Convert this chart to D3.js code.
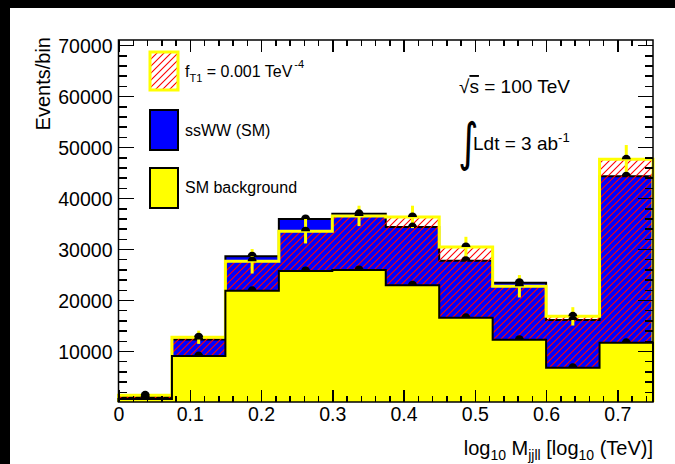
<!DOCTYPE html>
<html>
<head>
<meta charset="utf-8">
<style>
html, body{ margin:0; padding:0; background:#fff; overflow:hidden; }
svg{ display:block; font-family:"Liberation Sans", Arial, sans-serif; }
.axis path{ display:none; }
.axis line{ stroke:#000; stroke-width:1.5px; shape-rendering:crispEdges; }
.axis text{ font-size:19.5px; fill:#000; font-family:"Liberation Sans", Arial, sans-serif; }
</style>
</head>
<body>
<script src="https://cdn.jsdelivr.net/npm/d3@7/dist/d3.min.js"></script>
<script>
  var WIDTH = 675;
  var HEIGHT = 464;

  // bin edges of log10 M_jjll
  var binEdges = [0, 0.075, 0.15, 0.225, 0.3, 0.375, 0.45, 0.525, 0.6, 0.675, 0.75];
  var binCenters = [0.0375, 0.1125, 0.1875, 0.2625, 0.3375, 0.4125, 0.4875, 0.5625, 0.6375, 0.7125];

  var smBackground = [600, 9000, 21800, 25700, 25900, 22900, 16500, 12200, 6700, 11600];
  var ssWW = [400, 3250, 6800, 10200, 11000, 11400, 11200, 11200, 9400, 32700];
  var fT1Total = [1300, 12700, 27600, 33500, 36500, 36300, 30400, 22700, 16800, 47600];
  var fT1Err = [400, 1300, 2400, 2400, 2000, 2200, 2000, 2200, 1800, 2800];

  var xTicks = [0, 0.1, 0.2, 0.3, 0.4, 0.5, 0.6, 0.7];
  var xTickLabels = ["0", "0.1", "0.2", "0.3", "0.4", "0.5", "0.6", "0.7"];
  var yTicks = [10000, 20000, 30000, 40000, 50000, 60000, 70000];
  var yTickLabels = ["10000", "20000", "30000", "40000", "50000", "60000", "70000"];

  var smTotal = smBackground.map((d, i) => d + ssWW[i]);

  var xScale = d3.scaleLinear().domain([0, 0.75]).range([118.5, 653]);
  var yScale = d3.scaleLinear().domain([0, 71000]).range([402, 40]);

  var svg = d3.select("body").append("svg")
    .attr("width", WIDTH)
    .attr("height", HEIGHT);

  // canvas + window edge
  svg.append("rect").attr("width", WIDTH).attr("height", HEIGHT).attr("fill", "#fff");
  svg.append("rect").attr("x", 0).attr("y", 0).attr("width", WIDTH).attr("height", 8).attr("fill", "#000");
  svg.append("rect").attr("x", 0).attr("y", 0).attr("width", 10).attr("height", HEIGHT).attr("fill", "#000");

  var defs = svg.append("defs");
  var pat = defs.append("pattern")
    .attr("id", "hatch")
    .attr("patternUnits", "userSpaceOnUse")
    .attr("width", 7).attr("height", 7);
  pat.append("path")
    .attr("d", "M-1,1 L1,-1 M0,7 L7,0 M6,8 L8,6")
    .attr("stroke", "#ff0000")
    .attr("stroke-width", 1.1);

  var stepLine = d3.line()
    .x(d => xScale(d[0]))
    .y(d => yScale(d[1]));

  function stepPoints(vals){
    var pts = [[binEdges[0], 0]];
    vals.forEach((v, i) => {
      pts.push([binEdges[i], v]);
      pts.push([binEdges[i + 1], v]);
    });
    pts.push([binEdges[vals.length], 0]);
    return pts;
  }

  var plotArea = svg.append("g").attr("class", "plotArea");

  // SM total (bkg + ssWW)
  plotArea.append("path")
    .attr("d", stepLine(stepPoints(smTotal)))
    .attr("fill", "#0000ff")
    .attr("stroke", "#000")
    .attr("stroke-width", 2);

  // f_T1 hatched
  plotArea.append("path")
    .attr("d", stepLine(stepPoints(fT1Total)))
    .attr("fill", "url(#hatch)")
    .attr("stroke", "none");

  plotArea.append("path")
    .attr("d", stepLine(stepPoints(fT1Total)))
    .attr("fill", "none")
    .attr("stroke", "#ffff00")
    .attr("stroke-width", 3);

  // SM background
  plotArea.append("path")
    .attr("d", stepLine(stepPoints(smBackground)))
    .attr("fill", "#ffff00")
    .attr("stroke", "#000")
    .attr("stroke-width", 2);

  // error bars
  plotArea.selectAll("line.err")
    .data(fT1Total)
    .enter()
    .append("line")
      .attr("class", "err")
      .attr("x1", (d, i) => xScale(binCenters[i]))
      .attr("x2", (d, i) => xScale(binCenters[i]))
      .attr("y1", (d, i) => yScale(d + fT1Err[i]))
      .attr("y2", (d, i) => yScale(d - fT1Err[i]))
      .attr("stroke", "#ffff00")
      .attr("stroke-width", 3);

  function dome(cx, cy){
    var r = 4.5;
    return `M${cx - r},${cy} A${r},${r} 0 0 1 ${cx + r},${cy} Z`;
  }

  [smBackground, smTotal, fT1Total].forEach(function(series){
    plotArea.append("g").selectAll("path")
      .data(series)
      .enter()
      .append("path")
        .attr("d", (d, i) => dome(xScale(binCenters[i]), yScale(d)))
        .attr("fill", "#000");
  });

  // axes
  var xMinor = d3.range(0, 0.751, 0.02).filter(v => Math.abs(v * 10 - Math.round(v * 10)) > 1e-6);
  var yMinor = d3.range(2000, 71000, 2000).filter(v => v % 10000 !== 0);

  svg.append("g").attr("class", "axis")
    .attr("transform", "translate(0,402)")
    .call(d3.axisBottom(xScale).tickValues(xTicks).tickSize(-12).tickPadding(5)
      .tickFormat((d, i) => xTickLabels[i]));
  svg.append("g").attr("class", "axis")
    .attr("transform", "translate(0,402)")
    .call(d3.axisBottom(xScale).tickValues(xMinor).tickSize(-6).tickFormat(""));
  svg.append("g").attr("class", "axis")
    .attr("transform", "translate(0,40)")
    .call(d3.axisTop(xScale).tickValues(xTicks).tickSize(-12).tickFormat(""));
  svg.append("g").attr("class", "axis")
    .attr("transform", "translate(0,40)")
    .call(d3.axisTop(xScale).tickValues(xMinor).tickSize(-6).tickFormat(""));

  svg.append("g").attr("class", "axis y-left")
    .attr("transform", "translate(118.5,0)")
    .call(d3.axisLeft(yScale).tickValues(yTicks).tickSize(-15).tickPadding(6)
      .tickFormat((d, i) => yTickLabels[i]));
  svg.append("g").attr("class", "axis")
    .attr("transform", "translate(118.5,0)")
    .call(d3.axisLeft(yScale).tickValues(yMinor).tickSize(-8).tickFormat(""));
  svg.append("g").attr("class", "axis")
    .attr("transform", "translate(653,0)")
    .call(d3.axisRight(yScale).tickValues(yTicks).tickSize(-15).tickFormat(""));
  svg.append("g").attr("class", "axis")
    .attr("transform", "translate(653,0)")
    .call(d3.axisRight(yScale).tickValues(yMinor).tickSize(-8).tickFormat(""));

  svg.selectAll(".y-left text").attr("dy", "0.36em");

  // frame
  svg.append("rect")
    .attr("x", 118.5).attr("y", 40)
    .attr("width", 653 - 118.5).attr("height", 402 - 40)
    .attr("fill", "none").attr("stroke", "#000").attr("stroke-width", 1.5);

  // axis titles
  svg.append("text")
    .attr("transform", "translate(50,37) rotate(-90)")
    .attr("text-anchor", "end")
    .style("font-size", "20px")
    .text("Events/bin");

  var xt = svg.append("text")
    .attr("x", 653).attr("y", 455)
    .attr("text-anchor", "end")
    .style("font-size", "20px");
  xt.append("tspan").text("log");
  xt.append("tspan").attr("dy", 5).style("font-size", "14px").text("10");
  xt.append("tspan").attr("dy", -5).text(" M");
  xt.append("tspan").attr("dy", 5).style("font-size", "14px").text("jjll");
  xt.append("tspan").attr("dy", -5).text(" [log");
  xt.append("tspan").attr("dy", 5).style("font-size", "14px").text("10");
  xt.append("tspan").attr("dy", -5).text(" (TeV)]");

  // legend
  var legend = svg.append("g").attr("class", "legend");
  legend.append("rect").attr("x", 150).attr("y", 52).attr("width", 28).attr("height", 38)
    .attr("fill", "#fff").attr("stroke", "none");
  legend.append("rect").attr("x", 150).attr("y", 52).attr("width", 28).attr("height", 38)
    .attr("fill", "url(#hatch)").attr("stroke", "#ffff00").attr("stroke-width", 3);
  legend.append("rect").attr("x", 150).attr("y", 110).attr("width", 28).attr("height", 40)
    .attr("fill", "#0000ff").attr("stroke", "#000").attr("stroke-width", 2);
  legend.append("rect").attr("x", 150).attr("y", 168).attr("width", 28).attr("height", 40)
    .attr("fill", "#ffff00").attr("stroke", "#000").attr("stroke-width", 2);

  var l1 = legend.append("text").attr("x", 185).attr("y", 77).style("font-size", "16px");
  l1.append("tspan").text("f");
  l1.append("tspan").attr("dy", 5).style("font-size", "11px").text("T1");
  l1.append("tspan").attr("dy", -5).text(" = 0.001 TeV");
  l1.append("tspan").attr("dy", -9).attr("dx", 2).style("font-size", "11px").text("-4");

  legend.append("text").attr("x", 185).attr("y", 136).style("font-size", "16px").text("ssWW (SM)");
  legend.append("text").attr("x", 185).attr("y", 193).style("font-size", "16px").text("SM background");

  // energy / lumi
  var t1 = svg.append("text").attr("x", 459).attr("y", 93).style("font-size", "19px");
  t1.append("tspan").text("√");
  t1.append("tspan").style("text-decoration", "overline").text("s");
  t1.append("tspan").text(" = 100 TeV");

  svg.append("text")
    .attr("transform", "translate(458,160) scale(0.75,1)")
    .style("font-size", "52px")
    .style("font-family", "'DejaVu Sans', sans-serif")
    .style("font-weight", "normal")
    .text("∫");
  var t2 = svg.append("text").attr("x", 473).attr("y", 150).style("font-size", "19px");
  t2.append("tspan").text("Ldt = 3 ab");
  t2.append("tspan").attr("dy", -8).style("font-size", "13px").text("-1");
</script>
</body>
</html>
